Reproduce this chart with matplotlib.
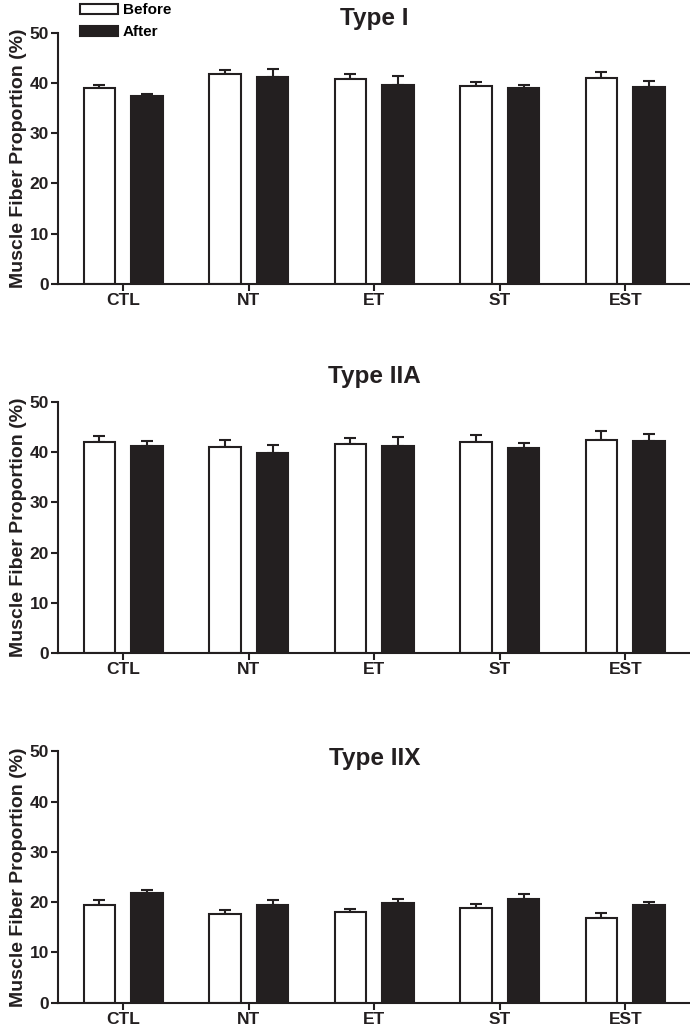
import numpy as np
import matplotlib
matplotlib.use('Agg')
import matplotlib.pyplot as plt
from matplotlib.patches import Patch

plt.rcParams['font.family'] = ['Liberation Sans', 'DejaVu Sans']
plt.rcParams['font.weight'] = 'bold'

groups = ['CTL', 'NT', 'ET', 'ST', 'EST']

# mean values and upper error (SEM)
type1_before = [39.0, 41.7, 40.8, 39.4, 41.0]
type1_before_err = [0.6, 0.8, 1.0, 0.8, 1.1]
type1_after = [37.4, 41.2, 39.6, 39.0, 39.1]
type1_after_err = [0.3, 1.5, 1.8, 0.5, 1.3]

type2a_before = [41.9, 41.0, 41.5, 42.0, 42.4]
type2a_before_err = [1.3, 1.4, 1.2, 1.3, 1.7]
type2a_after = [41.2, 39.8, 41.2, 40.9, 42.1]
type2a_after_err = [0.9, 1.6, 1.7, 0.9, 1.4]

type2x_before = [19.4, 17.6, 18.1, 18.9, 16.9]
type2x_before_err = [1.1, 0.8, 0.5, 0.8, 0.9]
type2x_after = [21.9, 19.5, 19.9, 20.7, 19.4]
type2x_after_err = [0.6, 0.9, 0.8, 0.9, 0.6]

panels = [
    ('Type I', type1_before, type1_before_err, type1_after, type1_after_err, 0.725, 51.5),
    ('Type IIA', type2a_before, type2a_before_err, type2a_after, type2a_after_err, 0.3676, 53.7),
    ('Type IIX', type2x_before, type2x_before_err, type2x_after, type2x_after_err, 0.0293, 47.3),
]

dark = '#231f20'
fig = plt.figure(figsize=(6.9, 10.33), dpi=100)
x = np.arange(len(groups))
w = 0.25
off = 0.19
lw = 1.5

for title, b, be, a, ae, bottom, ty in panels:
    ax = fig.add_axes([0.084, bottom, 0.915, 0.2435])
    ax.bar(x - off, b, w, color='white', edgecolor=dark, linewidth=lw, zorder=2)
    ax.bar(x + off, a, w, color=dark, edgecolor=dark, linewidth=lw, zorder=2)
    ax.errorbar(x - off, b, yerr=[np.zeros(5), be], fmt='none', ecolor=dark,
                elinewidth=lw, capsize=4.5, capthick=lw, zorder=1)
    ax.errorbar(x + off, a, yerr=[np.zeros(5), ae], fmt='none', ecolor=dark,
                elinewidth=lw, capsize=4.5, capthick=lw, zorder=1)
    ax.set_xlim(-0.52, 4.51)
    ax.set_ylim(0, 50)
    ax.set_yticks([0, 10, 20, 30, 40, 50])
    ax.set_xticks(x)
    ax.set_xticklabels(groups)
    ax.spines['top'].set_visible(False)
    ax.spines['right'].set_visible(False)
    for s in ['left', 'bottom']:
        ax.spines[s].set_linewidth(lw)
        ax.spines[s].set_color(dark)
    ax.tick_params(width=lw, length=5, colors=dark, labelsize=12.5, pad=1.5)
    ax.set_ylabel('Muscle Fiber Proportion (%)', fontsize=14, fontweight='bold',
                  color=dark, labelpad=2)
    ax.text(2, ty, title, ha='center', va='baseline', fontsize=17.5,
            fontweight='bold', color=dark, clip_on=False)

handles = [Patch(facecolor='white', edgecolor=dark, linewidth=lw, label='Before'),
           Patch(facecolor=dark, edgecolor=dark, linewidth=lw, label='After')]
fig.legend(handles=handles, loc='upper left', bbox_to_anchor=(0.107, 1.003),
           frameon=False, fontsize=11, handlelength=2.5, handleheight=0.65,
           handletextpad=0.3, labelspacing=0.55, borderaxespad=0)

fig.savefig('out.png', dpi=100)
